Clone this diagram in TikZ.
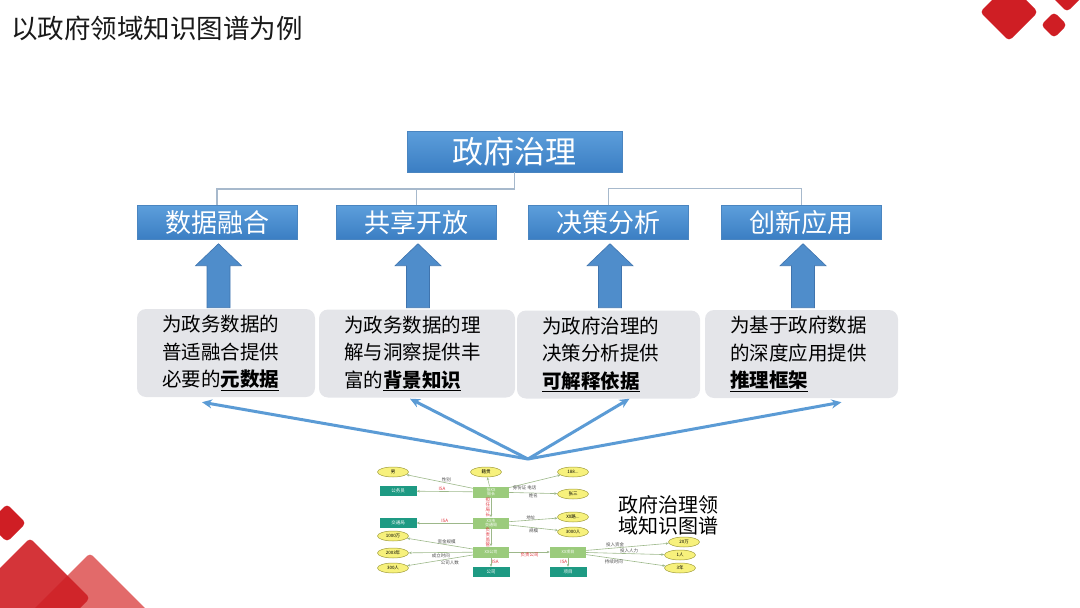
\documentclass[tikz,border=0pt]{standalone}
\usepackage{fontspec}
\setmainfont{Noto Sans CJK SC}
\usepackage{xcolor}
\usepackage{tikz}
\usetikzlibrary{shapes.geometric, arrows.meta, positioning, calc}

\definecolor{boxtop}{HTML}{5C9EDB}
\definecolor{boxbot}{HTML}{3B7EC3}
\definecolor{boxline}{HTML}{4A85C0}
\definecolor{treeline}{HTML}{A7B9CC}
\definecolor{arrfill}{HTML}{4F8DCB}
\definecolor{arrline}{HTML}{3F74AE}
\definecolor{descgray}{HTML}{E4E5E9}
\definecolor{ptrblue}{HTML}{5B9BD5}
\definecolor{decored}{HTML}{CF1E24}
\definecolor{decolight}{HTML}{E26A6A}
\definecolor{kgyellow}{HTML}{F7F17C}
\definecolor{kgolive}{HTML}{A09C3A}
\definecolor{kgteal}{HTML}{1E9A83}
\definecolor{kggreen}{HTML}{9BCB7C}
\definecolor{kgedge}{HTML}{9DB88A}
\definecolor{kgred}{HTML}{E0303A}

\begin{document}
\begin{tikzpicture}[
    x=1pt, y=-1pt,
    >={Stealth[length=10pt,width=9pt]},
    head/.style   = {draw=boxline, top color=boxtop, bottom color=boxbot,
                     text=white, inner sep=0pt},
    root/.style   = {head, minimum width=215pt, minimum height=41pt,
                     font=\fontsize{31}{31}\selectfont},
    cat/.style    = {head, minimum width=160pt, minimum height=34pt,
                     font=\fontsize{26}{26}\selectfont},
    desc/.style   = {fill=descgray, rounded corners=9pt, inner xsep=25pt,
                     inner ysep=0pt, minimum height=88pt, align=left,
                     font=\fontsize{19.5}{27.5}\selectfont},
    tree/.style   = {draw=treeline, line width=1.5pt},
    uparrow/.style= {fill=arrfill, draw=arrline, line width=0.6pt},
    ptr/.style    = {->, draw=ptrblue, line width=3pt},
    deco/.style   = {fill=decored, rounded corners=4pt},
    kgent/.style  = {draw=kgolive, fill=kgyellow, ellipse, line width=0.5pt,
                     minimum width=31pt, minimum height=10pt, inner sep=0pt,
                     font=\fontsize{4.5}{5}\selectfont},
    kgcls/.style  = {fill=kgteal, text=white, minimum width=37pt,
                     minimum height=10pt, inner sep=0pt,
                     font=\fontsize{4.5}{5}\selectfont},
    kgins/.style  = {fill=kggreen, text=white, minimum width=36pt,
                     minimum height=11pt, inner sep=0pt, align=center,
                     font=\fontsize{4}{4.2}\selectfont},
    kge/.style    = {-{Stealth[length=3pt,width=2.5pt]}, draw=kgedge,
                     line width=0.6pt},
    kgl/.style    = {font=\fontsize{4.5}{5}\selectfont, text=black!70,
                     inner sep=0.5pt},
    kgisa/.style  = {kgl, text=kgred}
]
\useasboundingbox (0,0) rectangle (1080,608);

% ---------------- corner decoration ----------------
\fill[deco] (1009,-17) -- (1038,12) -- (1009,41) -- (980,12) -- cycle;
\fill[deco] (1054,12) -- (1067,25) -- (1054,38) -- (1041,25) -- cycle;
\fill[deco] (1067,-18) -- (1082,-3) -- (1067,12) -- (1052,-3) -- cycle;
\fill[deco] (7,504) -- (26,523) -- (7,542) -- (-12,523) -- cycle;
\fill[deco, fill=decolight] (90,553) -- (150,613) -- (90,673) -- (30,613) -- cycle;
\fill[deco, opacity=0.9] (30,538) -- (90,598) -- (30,658) -- (-30,598) -- cycle;

% ---------------- title ----------------
\node[anchor=west, text=black!90, inner sep=0pt,
      font=\fontsize{26.5}{26.5}\selectfont] (title) at (11,28)
      {以政府领域知识图谱为例};

% ---------------- hierarchy ----------------
\node[root] (gov) at (514.5,151.5) {政府治理};

\node[cat] (c1) at (217,222.5) {数据融合};
\node[cat] (c2) at (416.5,222.5) {共享开放};
\node[cat] (c3) at (608.5,222.5) {决策分析};
\node[cat] (c4) at (801.5,222.5) {创新应用};

\coordinate (bus) at (514.5,189);
\draw[tree] (gov.south) -- (bus);
\draw[tree] (c1.north) |- (bus);
\draw[tree] (c2.north) |- (bus);
\draw[tree] (c3.north) |- ($(c3.north)!0.5!(c4.north)+(0,-17)$) -| (c4.north);

% block arrows up to each category
\foreach \b in {c1,c2,c3,c4}
  \filldraw[uparrow] ([xshift=1.5pt,yshift=-4pt]\b.south) -- ++(23,22)
      -- ++(-11.5,0) -- ++(0,42) -- ++(-23,0) -- ++(0,-42)
      -- ++(-11.5,0) -- cycle;

% ---------------- descriptions ----------------
\node[desc, text width=128pt] (d1) at (226,353)
  {为政务数据的\\普适融合提供\\必要的\textbf{\underline{元数据}}};
\node[desc, text width=146pt] (d2) at (417,353.5)
  {为政务数据的理\\解与洞察提供丰\\富的\textbf{\underline{背景知识}}};
\node[desc, text width=133pt] (d3) at (608.5,354.5)
  {为政府治理的\\决策分析提供\\\textbf{\underline{可解释依据}}};
\node[desc, text width=143pt] (d4) at (801.5,354)
  {为基于政府数据\\的深度应用提供\\\textbf{\underline{推理框架}}};

% ---------------- pointers from the graph ----------------
\coordinate (hub) at (528,459);
\draw[ptr] (hub) -- ([xshift=-24pt,yshift=-5pt]d1.south);
\draw[ptr] (hub) -- ([xshift=-7pt,yshift=-1pt]d2.south);
\draw[ptr] (hub) -- ([xshift=21pt,yshift=0pt]d3.south);
\draw[ptr] (hub) -- ([xshift=40pt,yshift=-4pt]d4.south);

% ---------------- knowledge graph thumbnail ----------------
\node[kgins] (k1) at (491,492) {张XX\\局长};
\node[kgins] (k2) at (491,523) {XX市\\交通局};
\node[kgins] (k3) at (491,552) {XX公司};
\node[kgins] (k4) at (568,552) {XX项目};

\node[kgcls] (t1) at (398,491) {公务员};
\node[kgcls] (t2) at (398,523) {交通局};
\node[kgcls] (t3) at (491,572) {公司};
\node[kgcls] (t4) at (568,572) {项目};

\node[kgent] (e1)  at (393,472) {男};
\node[kgent] (e2)  at (486,472) {籍贯};
\node[kgent] (e3)  at (573,472) {188...};
\node[kgent] (e4)  at (573,494) {张三};
\node[kgent] (e5)  at (573,517) {XX路...};
\node[kgent] (e6)  at (573,532) {3000人};
\node[kgent] (e7)  at (393,536) {1000万};
\node[kgent] (e8)  at (393,553) {2003年};
\node[kgent] (e9)  at (393,568) {300人};
\node[kgent] (e10) at (684,542) {20万};
\node[kgent] (e11) at (680,555) {1人};
\node[kgent] (e12) at (680,568) {3年};

\draw[kge] (k1) -- node[kgl,pos=0.4,above]{性别} (e1);
\draw[kge] (k1) -- (e2);
\draw[kge] (k1) -- node[kgl,pos=0.3,below=1pt]{身份证 电话} (e3);
\draw[kge] (k1) -- node[kgl,pos=0.5,below]{姓名} (e4);
\draw[kge] (k1) -- node[kgisa,pos=0.55,above]{ISA} (t1);
\draw[kge] (k1) -- node[kgisa,left,align=center]{担\\任\\局\\长} (k2);
\draw[kge] (k2) -- node[kgisa,pos=0.5,above]{ISA} (t2);
\draw[kge] (k2) -- node[kgl,pos=0.45,above]{地址} (e5);
\draw[kge] (k2) -- node[kgl,pos=0.5,below]{规模} (e6);
\draw[kge] (k2) -- node[kgisa,left,align=center]{负\\责\\监\\管} (k3);
\draw[kge] (k3) -- node[kgl,pos=0.4,above]{资金规模} (e7);
\draw[kge] (k3) -- node[kgl,pos=0.5,below]{成立时间} (e8);
\draw[kge] (k3) -- node[kgl,pos=0.35,below=1pt]{公司人数} (e9);
\draw[kge] (k3) -- node[kgisa,right]{ISA} (t3);
\draw[kge] (k3) -- node[kgisa,pos=0.5,below]{负责公司} (k4);
\draw[kge] (k4) -- node[kgisa,left]{ISA} (t4);
\draw[kge] (k4) -- node[kgl,pos=0.35,above]{投入资金} (e10);
\draw[kge] (k4) -- node[kgl,pos=0.55,above]{投入人力} (e11);
\draw[kge] (k4) -- node[kgl,pos=0.35,below]{持续时间} (e12);

\node[anchor=west, align=left, inner sep=0pt,
      font=\fontsize{20}{21}\selectfont] (kgname) at (618,515)
      {政府治理领\\域知识图谱};

\end{tikzpicture}
\end{document}
